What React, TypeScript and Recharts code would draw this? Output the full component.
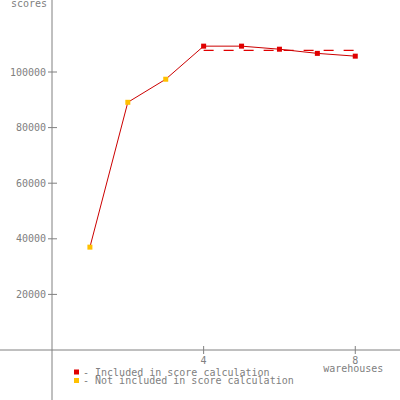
import React from 'react';
import { ComposedChart, Line, XAxis, YAxis, ReferenceLine, Legend } from 'recharts';

const warehouses = [1, 2, 3, 4, 5, 6, 7, 8];
const scores = [37000, 89100, 97400, 109300, 109300, 108200, 106700, 105700];
const included = [false, false, false, true, true, true, true, true];
const avgWarehouses = [4, 8];
const avgScore = [107800, 107800];
const yTicks = [20000, 40000, 60000, 80000, 100000];
const xTicks = [4, 8];
const legendLabels = ['- Included in score calculation', '- Not included in score calculation'];

const RED = '#e00000';
const LINE_RED = '#cc0000';
const YELLOW = '#ffc000';
const GRAY = '#808080';
const FONT = '"DejaVu Sans Mono", monospace';

const data = warehouses.map((w, i) => ({ x: w, y: scores[i], inc: included[i] }));
const avgData = avgWarehouses.map((w, i) => ({ x: w, y: avgScore[i] }));

const SquareDot = (props: any) => {
  const { cx, cy, payload } = props;
  if (cx == null || cy == null) return null;
  return <rect x={cx - 2.5} y={cy - 2.5} width={5} height={5} fill={payload.inc ? RED : YELLOW} stroke="none" />;
};

const YTick = (props: any) => {
  const { x, y, payload } = props;
  return (
    <g>
      <line x1={x - 4} x2={x + 5} y1={y} y2={y} stroke={GRAY} />
      <text x={x - 6} y={y} dy={3.5} textAnchor="end" fontSize={10} fontFamily={FONT} fill={GRAY}>
        {payload.value}
      </text>
    </g>
  );
};

const XTick = (props: any) => {
  const { x, y, payload } = props;
  return (
    <g>
      <line x1={x} x2={x} y1={y - 4} y2={y + 4} stroke={GRAY} />
      <text x={x} y={y + 10} dy={3.5} textAnchor="middle" fontSize={10} fontFamily={FONT} fill={GRAY}>
        {payload.value}
      </text>
      {payload.value === xTicks[xTicks.length - 1] ? (
        <text x={x - 2} y={y + 18} dy={3.5} textAnchor="middle" fontSize={10} fontFamily={FONT} fill={GRAY}>
          warehouses
        </text>
      ) : null}
    </g>
  );
};

const ScoresLabel = (props: any) => {
  const { viewBox } = props;
  return (
    <text x={viewBox.x + viewBox.width - 5} y={viewBox.y + 7} textAnchor="end" fontSize={10} fontFamily={FONT} fill={GRAY}>
      scores
    </text>
  );
};

const LegendContent = () => (
  <svg width={260} height={24}>
    {legendLabels.map((l, i) => (
      <g key={l}>
        <rect x={2} y={5.5 + i * 8.5} width={5} height={5} fill={i === 0 ? RED : YELLOW} />
        <text x={11} y={8 + i * 8.5} dy={3.5} fontSize={10} fontFamily={FONT} fill={GRAY}>
          {l}
        </text>
      </g>
    ))}
  </svg>
);

export default function App() {
  return (
    <div style={{ position: 'absolute', left: 0, top: 0, width: 400, height: 400, background: '#fff' }}>
      <ComposedChart width={400} height={400} margin={{ top: 0, right: 0, bottom: 0, left: 0 }}>
        <XAxis
          type="number"
          dataKey="x"
          domain={[0, 9.18]}
          ticks={xTicks}
          height={50}
          tickLine={false}
          tickSize={0}
          tickMargin={0}
          tick={<XTick />}
          axisLine={{ stroke: GRAY }}
          allowDataOverflow
        />
        <YAxis
          type="number"
          dataKey="y"
          domain={[0, 125900]}
          ticks={yTicks}
          width={52}
          tickLine={false}
          tickSize={0}
          tickMargin={0}
          tick={<YTick />}
          axisLine={{ stroke: GRAY }}
          label={<ScoresLabel />}
          allowDataOverflow
        />
        <ReferenceLine segment={[{ x: -1.372, y: 0 }, { x: 0, y: 0 }]} stroke={GRAY} ifOverflow="visible" />
        <ReferenceLine segment={[{ x: 0, y: 0 }, { x: 0, y: -17990 }]} stroke={GRAY} ifOverflow="visible" />
        <Line
          data={avgData}
          dataKey="y"
          stroke={RED}
          strokeWidth={1.2}
          strokeDasharray="10 10"
          dot={false}
          isAnimationActive={false}
          legendType="none"
        />
        <Line
          data={data}
          dataKey="y"
          stroke={LINE_RED}
          strokeWidth={1}
          dot={<SquareDot />}
          activeDot={false}
          isAnimationActive={false}
        />
        <Legend
          layout="vertical"
          align="center"
          verticalAlign="middle"
          content={<LegendContent />}
          wrapperStyle={{ left: 72, top: 364, width: 260, height: 24 }}
        />
      </ComposedChart>
    </div>
  );
}
